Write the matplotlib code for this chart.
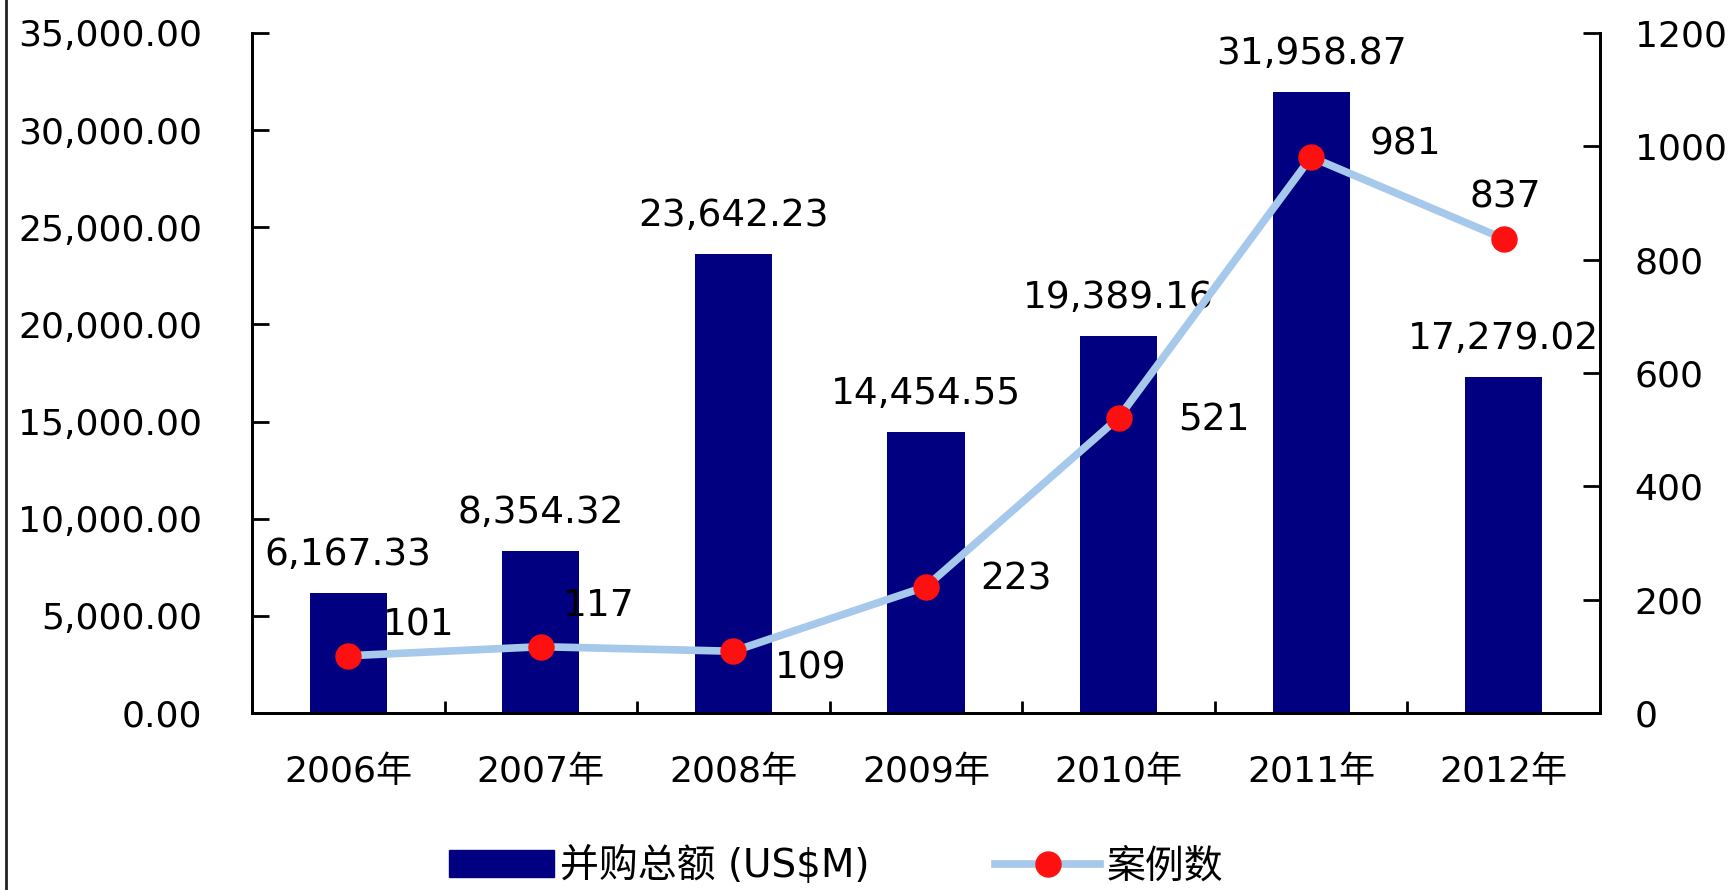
import numpy as np
import matplotlib.pyplot as plt
from matplotlib.lines import Line2D

plt.rcParams['font.family'] = ['DejaVu Sans', 'Noto Sans CJK SC']

years = ['2006年', '2007年', '2008年', '2009年', '2010年', '2011年', '2012年']
amount = [6167.33, 8354.32, 23642.23, 14454.55, 19389.16, 31958.87, 17279.02]
deals = [101, 117, 109, 223, 521, 981, 837]
amount_labels = ['6,167.33', '8,354.32', '23,642.23', '14,454.55', '19,389.16', '31,958.87', '17,279.02']

# label offsets for the deal counts (pixels)
deal_offsets = [(70, 30), (58, 41), (77, -17), (90, 7), (95, -3), (94, 13), (2, 41)]

fs = 26
line_c = '#a6c8ea'
dot_c = '#ff1010'
fig = plt.figure(figsize=(17.34, 8.9), dpi=100)
ax = fig.add_axes([252 / 1734, 1 - 713 / 890, (1600 - 252) / 1734, (713 - 33) / 890])
x = np.arange(len(years))

ax.bar(x, amount, width=0.4, color='#000080', zorder=2)
ax.set_xlim(-0.5, len(years) - 0.5)
ax.set_ylim(0, 35000)
ax.set_yticks(np.arange(0, 35001, 5000))
ax.set_yticklabels(['{:,.2f}'.format(v) for v in np.arange(0, 35001, 5000)], fontsize=fs)
ax.set_xticks(x)
ax.set_xticklabels(years, fontsize=fs)
ax.set_xticks(np.arange(-0.5, len(years)), minor=True)
ax.tick_params(axis='x', which='major', length=0, pad=30)
ax.tick_params(axis='x', which='minor', direction='in', length=9, width=2)
ax.tick_params(axis='y', direction='in', length=12, width=2, pad=36)
for s in ['left', 'bottom', 'right', 'top']:
    ax.spines[s].set_linewidth(2)
ax.spines['top'].set_visible(False)

for i, v in enumerate(amount):
    ax.annotate(amount_labels[i], (x[i], v), xytext=(0, 38), textcoords='offset pixels',
                ha='center', va='center', fontsize=27)

ax2 = ax.twinx()
ax2.set_ylim(0, 1200)
ax2.set_yticks(np.arange(0, 1201, 200))
ax2.tick_params(axis='y', direction='in', length=12, width=2, pad=25, labelsize=fs)
for s in ['left', 'bottom', 'right', 'top']:
    ax2.spines[s].set_linewidth(2)
ax2.spines['top'].set_visible(False)
ax2.plot(x, deals, color=line_c, lw=5.5, marker='o', markersize=18,
         markerfacecolor=dot_c, markeredgecolor=dot_c, zorder=3)
for i, v in enumerate(deals):
    ax2.annotate(str(v), (x[i], v), xytext=deal_offsets[i], textcoords='offset pixels',
                 ha='center', va='center', fontsize=27)

# frame line on the left edge
fig.add_artist(Line2D([6 / 1734, 6 / 1734], [0, 1], color='#222222', lw=2))

handles = [plt.Rectangle((0, 0), 1, 1, color='#000080'),
           Line2D([], [], color=line_c, lw=5.5, marker='o', markersize=18,
                  markerfacecolor=dot_c, markeredgecolor=dot_c)]
fig.legend(handles, ['并购总额 (US$M)', '案例数'], loc='center', bbox_to_anchor=(0.482, 0.027),
           ncol=2, frameon=False, fontsize=28, handlelength=2.7, handletextpad=0.15,
           columnspacing=3.25)

fig.savefig('out.png', dpi=100)
